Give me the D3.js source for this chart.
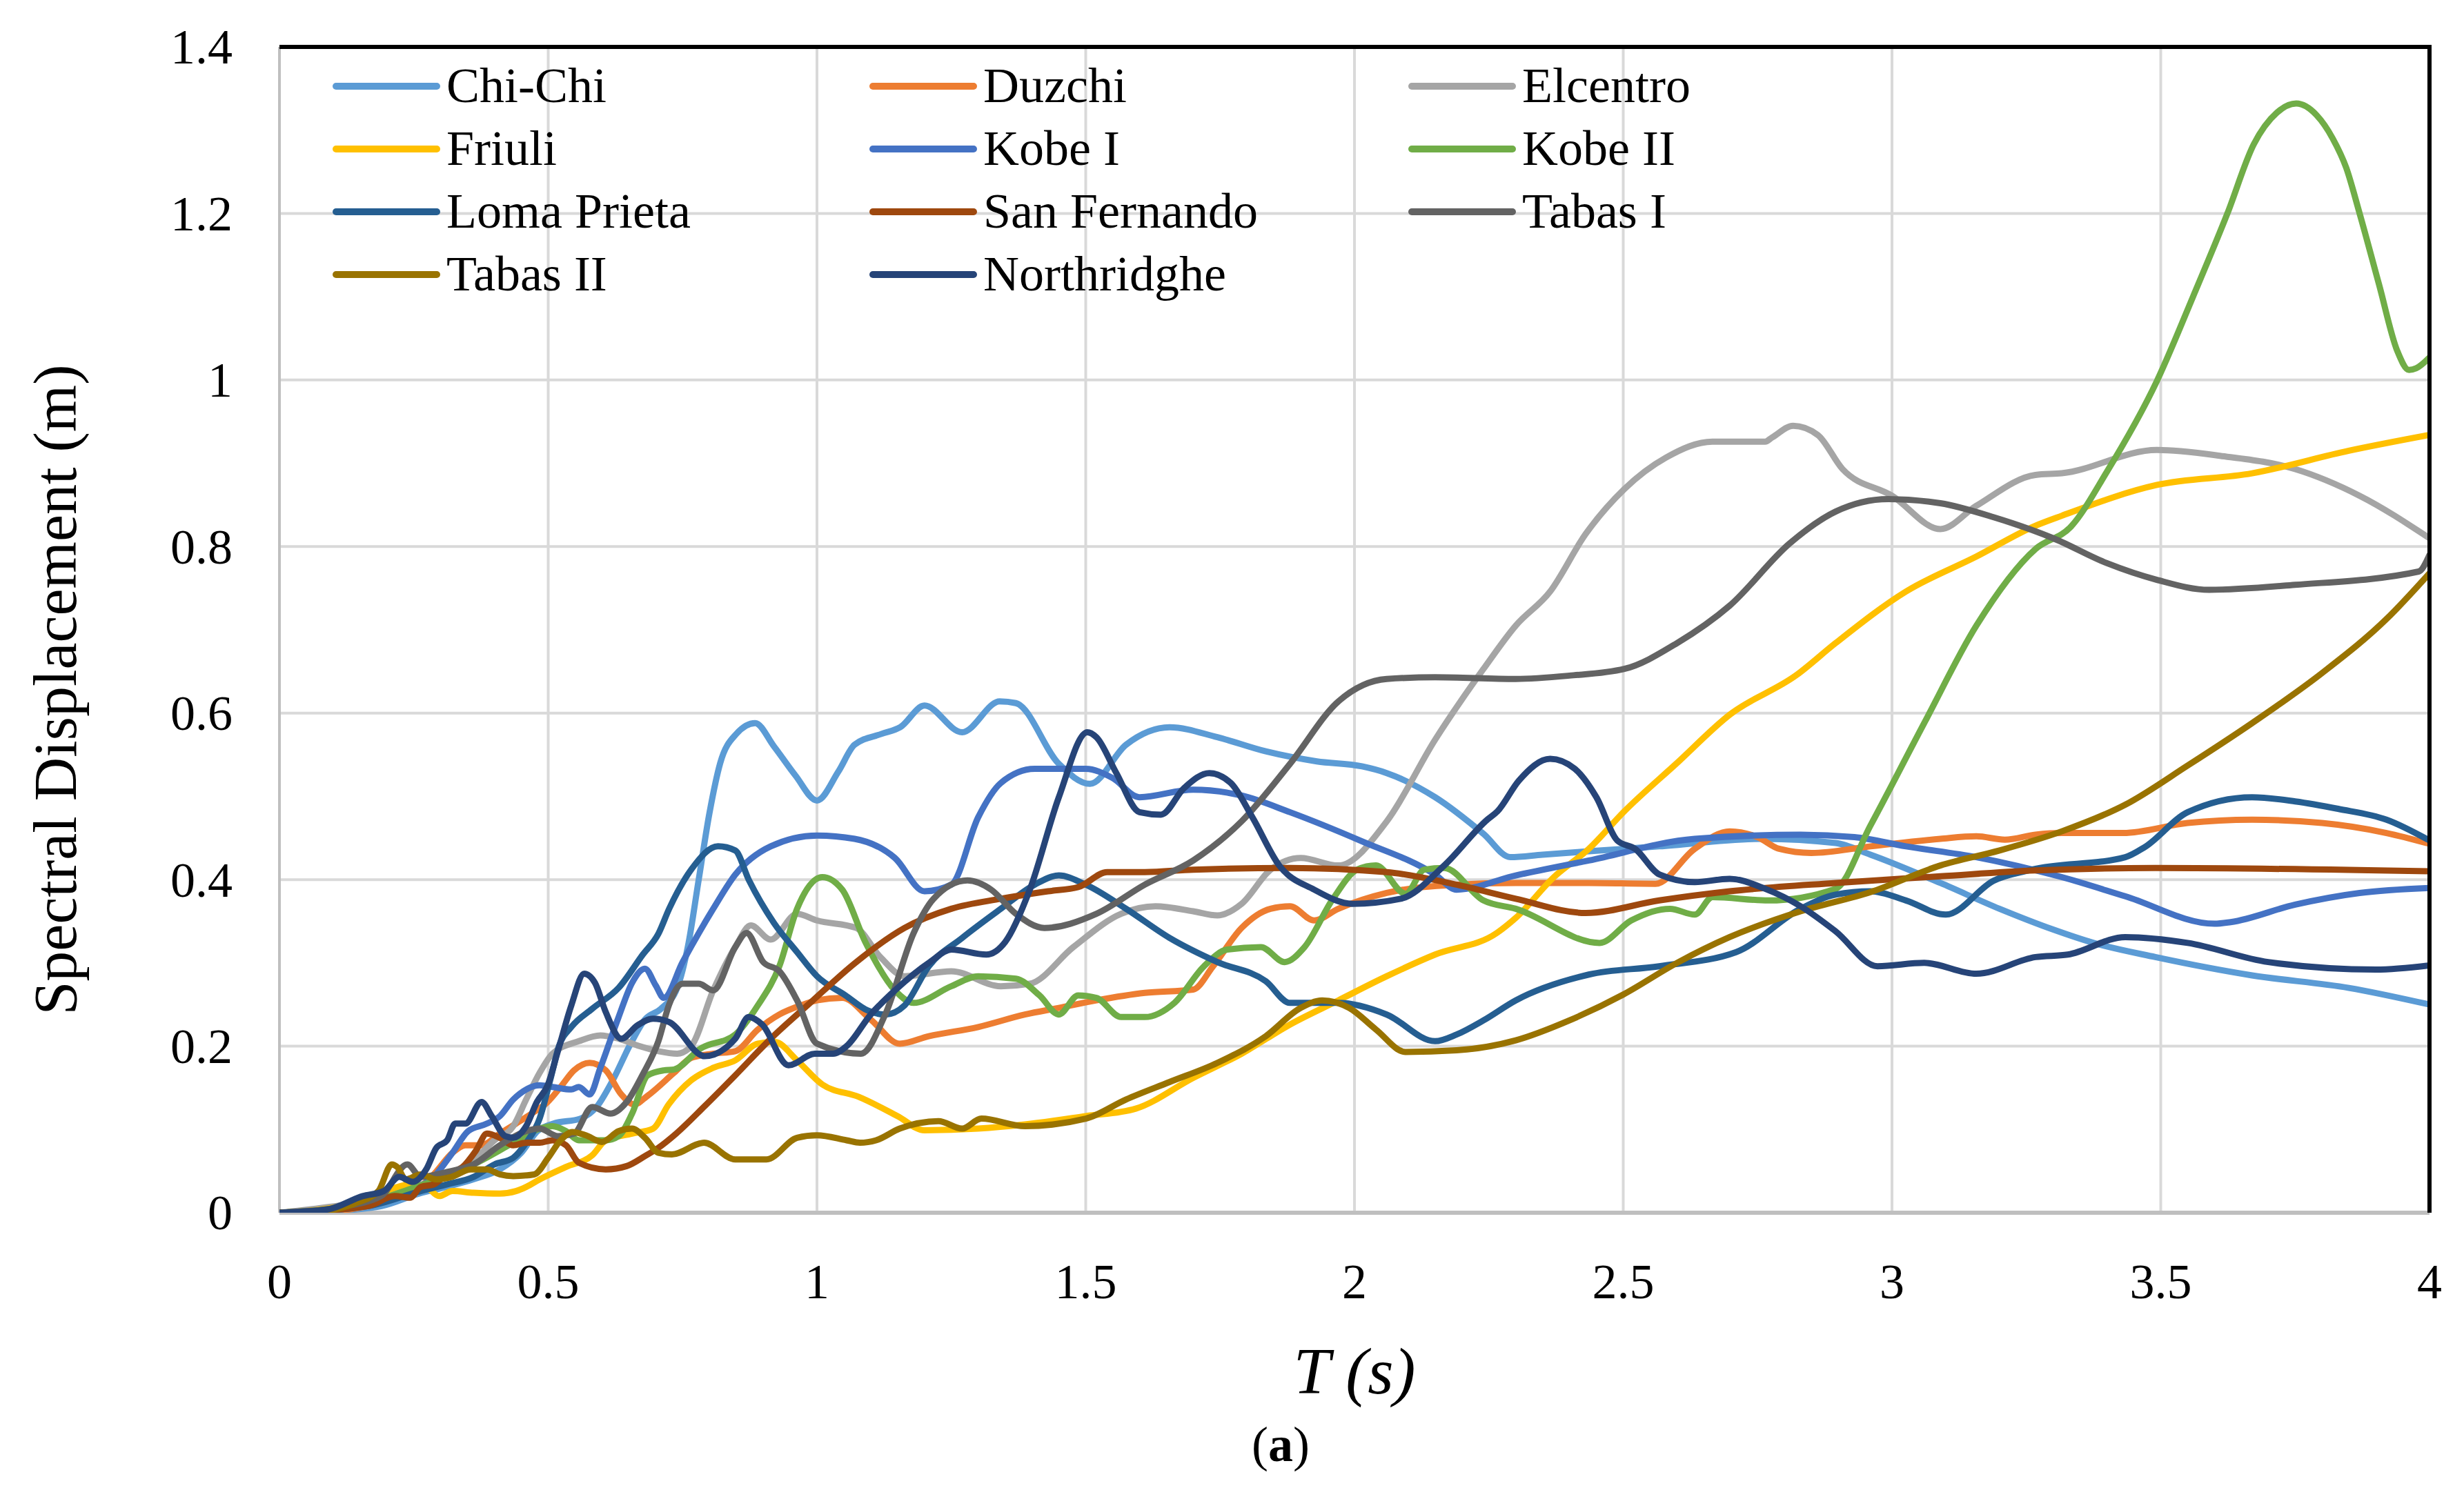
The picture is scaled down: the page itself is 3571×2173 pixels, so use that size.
<!DOCTYPE html>
<html>
<head>
<meta charset="utf-8">
<style>
  body { margin: 0; background: #fff; }
  svg { display: block; font-family: "Liberation Serif", "Times New Roman", serif; }
  .grid line { stroke: #d9d9d9; stroke-width: 4px; }
  .tick-label { font-size: 72px; fill: #000; }
  .series { fill: none; stroke-width: 9px; stroke-linejoin: round; stroke-linecap: round; }
  .legend text { font-size: 72px; fill: #000; }
</style>
<script src="https://cdnjs.cloudflare.com/ajax/libs/d3/7.8.5/d3.min.js"></script>
</head>
<body>
<svg width="3571" height="2173"></svg>
<script>
// period T (s) vs spectral displacement (m)
var chiChi = [[0,0],[0.1,0.002],[0.19,0.008],[0.26,0.023],[0.31,0.031],[0.36,0.04],[0.41,0.052],[0.45,0.072],[0.48,0.098],[0.51,0.107],[0.56,0.113],[0.59,0.127],[0.62,0.159],[0.655,0.205],[0.68,0.232],[0.71,0.245],[0.74,0.27],[0.76,0.32],[0.78,0.40],[0.80,0.48],[0.82,0.54],[0.85,0.575],[0.885,0.588],[0.92,0.56],[0.96,0.525],[1.0,0.495],[1.04,0.53],[1.07,0.562],[1.12,0.575],[1.155,0.583],[1.2,0.609],[1.27,0.577],[1.34,0.614],[1.37,0.612],[1.45,0.539],[1.508,0.515],[1.575,0.562],[1.656,0.583],[1.745,0.571],[1.835,0.554],[1.93,0.542],[2.014,0.536],[2.06,0.528],[2.15,0.499],[2.24,0.455],[2.29,0.427],[2.35,0.43],[2.436,0.434],[2.567,0.44],[2.76,0.449],[2.895,0.444],[2.96,0.43],[3.09,0.396],[3.2,0.365],[3.3,0.34],[3.375,0.324],[3.49,0.307],[3.67,0.285],[3.85,0.27],[4.0,0.25]];
var duzchi = [[0,0],[0.1,0.002],[0.165,0.008],[0.214,0.017],[0.243,0.023],[0.287,0.046],[0.322,0.072],[0.346,0.081],[0.376,0.081],[0.41,0.095],[0.44,0.107],[0.469,0.119],[0.499,0.133],[0.523,0.151],[0.548,0.171],[0.577,0.18],[0.607,0.171],[0.636,0.142],[0.66,0.13],[0.684,0.14],[0.734,0.168],[0.766,0.186],[0.807,0.191],[0.848,0.194],[0.89,0.22],[0.93,0.238],[0.97,0.249],[1.0,0.255],[1.047,0.258],[1.1,0.232],[1.154,0.203],[1.208,0.212],[1.3,0.223],[1.387,0.238],[1.45,0.246],[1.52,0.255],[1.61,0.264],[1.7,0.268],[1.737,0.296],[1.79,0.342],[1.844,0.365],[1.88,0.368],[1.925,0.351],[1.97,0.365],[2.06,0.384],[2.19,0.394],[2.3,0.396],[2.436,0.396],[2.56,0.395],[2.633,0.437],[2.698,0.458],[2.75,0.451],[2.79,0.437],[2.85,0.432],[2.96,0.44],[3.09,0.449],[3.157,0.452],[3.21,0.448],[3.267,0.454],[3.316,0.456],[3.43,0.456],[3.55,0.468],[3.67,0.472],[3.8,0.468],[3.92,0.456],[4.0,0.443]];
var elcentro = [[0,0],[0.115,0.009],[0.189,0.017],[0.238,0.028],[0.312,0.046],[0.361,0.063],[0.4,0.087],[0.435,0.104],[0.459,0.136],[0.484,0.168],[0.508,0.191],[0.557,0.206],[0.597,0.213],[0.631,0.209],[0.67,0.2],[0.705,0.194],[0.74,0.191],[0.766,0.2],[0.807,0.267],[0.848,0.319],[0.877,0.345],[0.914,0.328],[0.963,0.359],[1.0,0.351],[1.073,0.342],[1.118,0.307],[1.163,0.284],[1.25,0.29],[1.342,0.272],[1.396,0.275],[1.477,0.319],[1.566,0.359],[1.63,0.368],[1.7,0.362],[1.745,0.357],[1.79,0.371],[1.844,0.412],[1.9,0.426],[1.97,0.417],[2.06,0.47],[2.15,0.568],[2.24,0.653],[2.3,0.705],[2.364,0.746],[2.43,0.815],[2.502,0.869],[2.58,0.907],[2.666,0.926],[2.764,0.926],[2.777,0.931],[2.816,0.945],[2.862,0.934],[2.908,0.893],[3.0,0.861],[3.09,0.821],[3.157,0.849],[3.267,0.886],[3.316,0.888],[3.493,0.916],[3.61,0.909],[3.75,0.893],[3.87,0.861],[4.0,0.81]];
var friuli = [[0,0],[0.115,0.008],[0.189,0.024],[0.243,0.034],[0.273,0.031],[0.297,0.02],[0.322,0.026],[0.361,0.024],[0.41,0.023],[0.44,0.026],[0.459,0.031],[0.484,0.04],[0.533,0.055],[0.582,0.069],[0.607,0.087],[0.656,0.095],[0.695,0.101],[0.724,0.13],[0.766,0.159],[0.807,0.174],[0.848,0.183],[0.89,0.203],[0.922,0.205],[0.963,0.183],[1.01,0.154],[1.078,0.139],[1.15,0.116],[1.2,0.099],[1.3,0.101],[1.387,0.106],[1.5,0.116],[1.593,0.125],[1.7,0.162],[1.79,0.191],[1.88,0.226],[1.97,0.255],[2.06,0.284],[2.15,0.31],[2.265,0.336],[2.3,0.354],[2.371,0.403],[2.436,0.437],[2.502,0.482],[2.6,0.54],[2.698,0.598],[2.823,0.646],[2.895,0.684],[3.026,0.746],[3.157,0.788],[3.267,0.825],[3.316,0.837],[3.493,0.874],[3.67,0.888],[3.85,0.915],[4.0,0.934]];
var kobeI = [[0,0],[0.165,0.008],[0.238,0.026],[0.287,0.043],[0.322,0.072],[0.351,0.098],[0.386,0.107],[0.41,0.116],[0.435,0.136],[0.459,0.148],[0.484,0.153],[0.508,0.151],[0.543,0.148],[0.557,0.151],[0.577,0.142],[0.597,0.174],[0.631,0.235],[0.656,0.276],[0.68,0.293],[0.7,0.273],[0.715,0.258],[0.75,0.301],[0.807,0.365],[0.848,0.406],[0.914,0.44],[1.0,0.453],[1.07,0.449],[1.145,0.426],[1.2,0.386],[1.25,0.394],[1.3,0.475],[1.342,0.516],[1.405,0.533],[1.5,0.533],[1.55,0.522],[1.6,0.499],[1.7,0.508],[1.79,0.501],[1.88,0.481],[2.014,0.446],[2.15,0.406],[2.19,0.388],[2.3,0.405],[2.436,0.423],[2.633,0.449],[2.83,0.454],[2.93,0.451],[3.026,0.44],[3.157,0.427],[3.316,0.403],[3.434,0.38],[3.6,0.347],[3.63,0.349],[3.75,0.37],[3.87,0.384],[4.0,0.39]];
var kobeII = [[0,0],[0.15,0.01],[0.25,0.03],[0.361,0.058],[0.435,0.084],[0.484,0.101],[0.508,0.104],[0.533,0.098],[0.557,0.087],[0.607,0.087],[0.631,0.092],[0.656,0.119],[0.685,0.165],[0.715,0.171],[0.734,0.172],[0.783,0.197],[0.848,0.214],[0.89,0.249],[0.93,0.296],[0.963,0.365],[1.01,0.403],[1.047,0.388],[1.09,0.325],[1.145,0.267],[1.18,0.252],[1.25,0.272],[1.3,0.284],[1.37,0.281],[1.414,0.261],[1.45,0.238],[1.486,0.261],[1.52,0.258],[1.566,0.235],[1.61,0.235],[1.665,0.252],[1.72,0.296],[1.763,0.316],[1.826,0.319],[1.87,0.301],[1.907,0.319],[1.96,0.377],[2.005,0.412],[2.04,0.417],[2.095,0.383],[2.13,0.412],[2.167,0.414],[2.24,0.375],[2.3,0.365],[2.456,0.324],[2.515,0.351],[2.587,0.365],[2.633,0.358],[2.666,0.379],[2.77,0.375],[2.895,0.389],[2.96,0.465],[3.06,0.588],[3.157,0.705],[3.267,0.797],[3.333,0.824],[3.4,0.89],[3.493,0.999],[3.56,1.1],[3.624,1.2],[3.673,1.283],[3.716,1.321],[3.752,1.332],[3.79,1.318],[3.82,1.29],[3.845,1.255],[3.87,1.2],[3.906,1.115],[3.94,1.035],[3.962,1.012],[3.975,1.014],[4.0,1.027]];
var lomaPrieta = [[0,0],[0.165,0.008],[0.263,0.026],[0.312,0.034],[0.361,0.043],[0.4,0.058],[0.435,0.066],[0.459,0.084],[0.484,0.113],[0.504,0.16],[0.52,0.2],[0.543,0.223],[0.582,0.245],[0.631,0.27],[0.676,0.31],[0.705,0.335],[0.725,0.365],[0.766,0.412],[0.816,0.44],[0.848,0.435],[0.873,0.4],[0.92,0.348],[0.963,0.313],[1.0,0.284],[1.053,0.261],[1.094,0.243],[1.127,0.238],[1.163,0.249],[1.208,0.296],[1.27,0.33],[1.342,0.365],[1.405,0.394],[1.45,0.405],[1.5,0.394],[1.575,0.365],[1.656,0.33],[1.745,0.301],[1.835,0.278],[1.88,0.252],[1.97,0.252],[2.06,0.238],[2.15,0.206],[2.19,0.214],[2.24,0.231],[2.3,0.255],[2.436,0.286],[2.567,0.296],[2.71,0.313],[2.83,0.365],[2.895,0.382],[2.96,0.386],[3.026,0.375],[3.1,0.358],[3.19,0.399],[3.26,0.412],[3.434,0.427],[3.47,0.439],[3.55,0.481],[3.67,0.499],[3.75,0.494],[3.83,0.485],[3.92,0.472],[4.0,0.447]];
var sanFernando = [[0,0],[0.165,0.008],[0.214,0.02],[0.243,0.018],[0.263,0.031],[0.287,0.034],[0.312,0.046],[0.341,0.055],[0.366,0.075],[0.386,0.095],[0.41,0.09],[0.435,0.081],[0.459,0.084],[0.484,0.084],[0.508,0.087],[0.533,0.081],[0.557,0.06],[0.607,0.052],[0.646,0.056],[0.68,0.068],[0.705,0.078],[0.738,0.095],[0.791,0.128],[0.848,0.165],[0.914,0.209],[0.984,0.25],[1.073,0.301],[1.163,0.342],[1.25,0.365],[1.342,0.377],[1.43,0.386],[1.486,0.391],[1.54,0.409],[1.61,0.409],[1.7,0.412],[1.88,0.414],[2.06,0.409],[2.19,0.394],[2.3,0.377],[2.43,0.36],[2.567,0.375],[2.698,0.386],[2.895,0.396],[3.09,0.404],[3.267,0.411],[3.49,0.414],[4.0,0.41]];
var tabasI = [[0,0],[0.115,0.007],[0.189,0.02],[0.238,0.058],[0.263,0.043],[0.312,0.049],[0.361,0.058],[0.41,0.081],[0.459,0.098],[0.484,0.101],[0.518,0.092],[0.548,0.095],[0.582,0.127],[0.616,0.119],[0.646,0.133],[0.675,0.165],[0.705,0.206],[0.725,0.25],[0.75,0.275],[0.78,0.275],[0.807,0.267],[0.848,0.319],[0.869,0.336],[0.9,0.301],[0.93,0.29],[0.963,0.255],[1.0,0.203],[1.082,0.191],[1.127,0.238],[1.18,0.336],[1.217,0.377],[1.28,0.399],[1.324,0.388],[1.37,0.359],[1.423,0.342],[1.52,0.359],[1.61,0.394],[1.7,0.423],[1.79,0.47],[1.88,0.539],[1.97,0.614],[2.06,0.641],[2.15,0.643],[2.3,0.641],[2.4,0.645],[2.502,0.653],[2.6,0.684],[2.698,0.729],[2.81,0.804],[2.895,0.842],[2.993,0.857],[3.09,0.852],[3.19,0.835],[3.3,0.81],[3.4,0.78],[3.493,0.76],[3.59,0.748],[3.75,0.754],[3.98,0.77],[4.0,0.79]];
var tabasII = [[0,0],[0.066,0.001],[0.14,0.011],[0.184,0.026],[0.209,0.058],[0.219,0.055],[0.235,0.04],[0.263,0.046],[0.292,0.04],[0.32,0.043],[0.356,0.052],[0.386,0.052],[0.41,0.046],[0.435,0.044],[0.474,0.046],[0.5,0.066],[0.523,0.087],[0.545,0.097],[0.57,0.093],[0.6,0.085],[0.631,0.098],[0.656,0.101],[0.68,0.09],[0.705,0.072],[0.73,0.07],[0.79,0.084],[0.848,0.064],[0.906,0.064],[0.963,0.09],[1.0,0.093],[1.055,0.087],[1.08,0.084],[1.11,0.087],[1.154,0.101],[1.226,0.11],[1.27,0.101],[1.306,0.113],[1.387,0.104],[1.5,0.113],[1.575,0.136],[1.656,0.157],[1.745,0.18],[1.835,0.212],[1.9,0.246],[1.94,0.255],[1.99,0.246],[2.04,0.22],[2.095,0.193],[2.19,0.195],[2.3,0.207],[2.4,0.231],[2.5,0.262],[2.6,0.3],[2.698,0.331],[2.83,0.362],[2.96,0.385],[3.09,0.417],[3.2,0.435],[3.316,0.458],[3.434,0.49],[3.55,0.537],[3.67,0.588],[3.8,0.648],[3.92,0.713],[4.0,0.768]];
var northridghe = [[0,0],[0.09,0.004],[0.155,0.02],[0.194,0.026],[0.223,0.043],[0.248,0.037],[0.273,0.052],[0.292,0.078],[0.312,0.087],[0.327,0.107],[0.346,0.107],[0.376,0.133],[0.395,0.116],[0.42,0.092],[0.435,0.09],[0.459,0.104],[0.479,0.133],[0.499,0.153],[0.518,0.194],[0.543,0.249],[0.567,0.287],[0.587,0.276],[0.607,0.241],[0.636,0.209],[0.666,0.225],[0.695,0.233],[0.725,0.229],[0.791,0.188],[0.848,0.209],[0.873,0.235],[0.898,0.226],[0.947,0.177],[0.996,0.191],[1.03,0.191],[1.055,0.2],[1.1,0.238],[1.145,0.267],[1.21,0.301],[1.25,0.316],[1.315,0.31],[1.35,0.325],[1.396,0.388],[1.45,0.499],[1.503,0.577],[1.52,0.571],[1.557,0.528],[1.6,0.481],[1.64,0.478],[1.683,0.51],[1.73,0.528],[1.77,0.516],[1.81,0.475],[1.86,0.417],[1.925,0.388],[1.996,0.371],[2.086,0.377],[2.167,0.417],[2.247,0.472],[2.266,0.482],[2.306,0.519],[2.364,0.545],[2.41,0.533],[2.45,0.499],[2.489,0.447],[2.522,0.437],[2.568,0.406],[2.633,0.397],[2.698,0.401],[2.764,0.389],[2.83,0.368],[2.895,0.338],[2.973,0.296],[3.06,0.3],[3.157,0.287],[3.267,0.307],[3.327,0.31],[3.434,0.331],[3.55,0.324],[3.7,0.301],[3.9,0.292],[4.0,0.297]];

var names = ["Chi-Chi", "Duzchi", "Elcentro", "Friuli", "Kobe I", "Kobe II", "Loma Prieta", "San Fernando", "Tabas I", "Tabas II", "Northridghe"];
var values = [chiChi, duzchi, elcentro, friuli, kobeI, kobeII, lomaPrieta, sanFernando, tabasI, tabasII, northridghe];
var colors = ["#5b9bd5", "#ed7d31", "#a5a5a5", "#ffc000", "#4472c4", "#70ad47", "#255e91", "#9e480e", "#636363", "#997300", "#264478"];

var xTicks = [0, 0.5, 1, 1.5, 2, 2.5, 3, 3.5, 4];
var yTicks = [0, 0.2, 0.4, 0.6, 0.8, 1, 1.2, 1.4];

var svg = d3.select("svg"),
	plotL = 405, plotR = 3521, plotT = 68, plotB = 1758;

var x = d3.scaleLinear().domain([0, 4]).range([plotL, plotR]);
var y = d3.scaleLinear().domain([0, 1.4]).range([plotB, plotT]);

// gridlines
var grid = svg.append("g").attr("class", "grid");
grid.selectAll(".v").data(xTicks.slice(1, -1)).enter().append("line")
	.attr("x1", d => x(d)).attr("x2", d => x(d)).attr("y1", plotT).attr("y2", plotB);
grid.selectAll(".h").data(yTicks.slice(1, -1)).enter().append("line")
	.attr("x1", plotL).attr("x2", plotR).attr("y1", d => y(d)).attr("y2", d => y(d));

// axis lines
svg.append("line").attr("x1", plotL).attr("x2", plotL).attr("y1", plotT).attr("y2", plotB)
	.attr("stroke", "#bfbfbf").attr("stroke-width", 4);
svg.append("line").attr("x1", plotL).attr("x2", plotR).attr("y1", plotB).attr("y2", plotB)
	.attr("stroke", "#bfbfbf").attr("stroke-width", 6);

// tick labels
svg.append("g").selectAll("text").data(yTicks).enter().append("text")
	.attr("class", "tick-label")
	.attr("x", plotL - 68).attr("y", d => y(d)).attr("dy", "0.34em")
	.attr("text-anchor", "end")
	.text(d => d3.format("~g")(d));
svg.append("g").selectAll("text").data(xTicks).enter().append("text")
	.attr("class", "tick-label")
	.attr("x", d => x(d)).attr("y", 1882)
	.attr("text-anchor", "middle")
	.text(d => d3.format("~g")(d));

// series
svg.append("clipPath").attr("id", "plot").append("rect")
	.attr("x", plotL).attr("y", plotT - 10).attr("width", plotR - plotL).attr("height", plotB - plotT + 10);

var line = d3.line()
	.x(d => x(d[0]))
	.y(d => y(d[1]))
	.curve(d3.curveMonotoneX);

svg.append("g").attr("clip-path", "url(#plot)").selectAll("path").data(values).enter().append("path")
	.attr("class", "series")
	.attr("stroke", (d, i) => colors[i])
	.attr("d", line);

// top and right border
svg.append("path")
	.attr("d", "M" + plotL + "," + plotT + "H" + plotR + "V" + plotB)
	.attr("fill", "none").attr("stroke", "#000").attr("stroke-width", 6);

// legend, 3 columns
var colX = [487, 1265, 2046], rowY = [125, 216, 307, 398];
var legend = svg.append("g").attr("class", "legend").selectAll("g").data(names).enter().append("g")
	.attr("transform", (d, i) => "translate(" + colX[i % 3] + "," + rowY[Math.floor(i / 3)] + ")");
legend.append("line").attr("x1", 0).attr("x2", 146).attr("y1", 0).attr("y2", 0)
	.attr("stroke", (d, i) => colors[i]).attr("stroke-width", 10).attr("stroke-linecap", "round");
legend.append("text").attr("x", 160).attr("y", 23).text(d => d);

// axis titles
svg.append("text")
	.attr("transform", "translate(110,1000) rotate(-90)")
	.attr("text-anchor", "middle")
	.style("font-size", "88px")
	.text("Spectral Displacement (m)");

svg.append("text")
	.attr("x", (plotL + plotR) / 2).attr("y", 2020)
	.attr("text-anchor", "middle")
	.style("font-size", "96px").style("font-style", "italic")
	.text("T (s)");

var cap = svg.append("text")
	.attr("x", 1856).attr("y", 2118)
	.attr("text-anchor", "middle")
	.style("font-size", "72px");
cap.append("tspan").text("(");
cap.append("tspan").style("font-weight", "bold").text("a");
cap.append("tspan").text(")");
</script>
</body>
</html>
